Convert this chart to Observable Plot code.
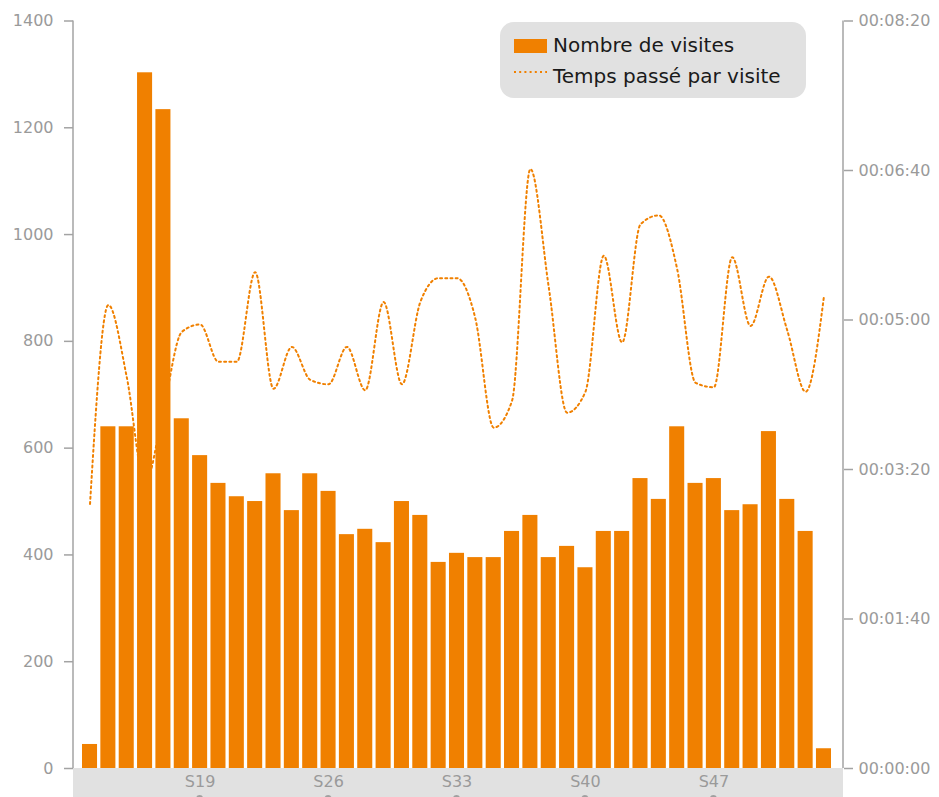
<!DOCTYPE html>
<html>
<head>
<meta charset="utf-8">
<script src="https://cdn.jsdelivr.net/npm/d3@7"></script>
<script src="https://cdn.jsdelivr.net/npm/@observablehq/plot@0.6"></script>
<style>
  html, body { margin: 0; padding: 0; background: #fff; }
  #wrap { position: relative; width: 939px; height: 797px; overflow: hidden; }
  #legend { position: absolute; left: 500px; top: 22px; }
</style>
</head>
<body>
<div id="wrap"></div>
<script>
const weeks = ["S13","S14","S15","S16","S17","S18","S19","S20","S21","S22","S23","S24","S25","S26","S27","S28","S29","S30","S31","S32","S33","S34","S35","S36","S37","S38","S39","S40","S41","S42","S43","S44","S45","S46","S47","S48","S49","S50","S51","S52","S53"];
const visits = [45,640,640,1303,1234,655,586,534,509,500,552,483,552,519,438,448,423,500,474,386,403,395,395,444,474,395,416,376,444,444,543,504,640,534,543,483,494,631,504,444,37];
const secondsPerVisit = [177,310,262,191,240,292,297,272,272,332,254,282,260,257,282,253,312,257,312,328,328,301,228,246,401,322,238,252,343,285,364,370,334,258,255,342,296,329,293,252,316];
const leftTicks = [0,200,400,600,800,1000,1200,1400];
const rightTicks = [0,100,200,300,400,500];
const xTicks = ["S19","S26","S33","S40","S47"];
const seriesNames = ["Nombre de visites","Temps passé par visite"];

const orange = "#f08000";
const axisGray = "#a3a3a3";
const yMax = leftTicks[leftTicks.length-1];
const secMax = rightTicks[rightTicks.length-1];
const k = yMax / secMax;

const table = weeks.map((w, i) => ({week: w, visits: visits[i], sec: secondsPerVisit[i]}));

function hms(s) {
  const h = Math.floor(s / 3600), m = Math.floor((s % 3600) / 60), ss = Math.round(s % 60);
  const p = n => String(n).padStart(2, "0");
  return `${p(h)}:${p(m)}:${p(ss)}`;
}

const W = 939, H = 797, mL = 73, mR = 96, mT = 20.5, mB = 29;

const chart = Plot.plot({
  width: W, height: H,
  marginTop: mT, marginBottom: mB, marginLeft: mL, marginRight: mR,
  style: {fontFamily: "DejaVu Sans", fontSize: "16px", background: "white", overflow: "visible"},
  x: {type: "band", domain: weeks, paddingInner: 0.18, paddingOuter: 0, round: false, range: [mL + 9, W - mR - 12], label: null},
  y: {domain: [0, yMax], label: null},
  marks: [
    Plot.line(table, {x: "week", y: d => d.sec * k, curve: "monotone-x", stroke: orange, strokeWidth: 2, strokeDasharray: "2,3.2"}),
    Plot.barY(table, {x: "week", y: "visits", fill: orange}),
    Plot.axisY(leftTicks, {anchor: "left", tickSize: 9, tickPadding: 11, color: "#9a9a9a", stroke: axisGray, strokeWidth: 1.5, tickFormat: d => String(d), label: null}),
    Plot.axisY(rightTicks.map(s => s * k), {anchor: "right", tickSize: 9, tickPadding: 6, color: "#9a9a9a", stroke: axisGray, strokeWidth: 1.5, tickFormat: v => hms(v / k), label: null}),
    Plot.axisX(xTicks, {anchor: "bottom", tickSize: 0, tickPadding: 7, color: "#9a9a9a", label: null})
  ]
});

const svg = d3.select(chart);
// gray x-axis band
svg.insert("rect", ":first-child")
  .attr("x", mL).attr("y", H - mB).attr("width", W - mL - mR).attr("height", mB + 5)
  .attr("fill", "#e1e1e1");
svg.insert("rect", ":first-child").attr("x", 0).attr("y", 0).attr("width", W).attr("height", H).attr("fill", "#fff");
// axis lines
[mL, W - mR].forEach(x => {
  svg.append("line").attr("x1", x).attr("x2", x).attr("y1", mT).attr("y2", H - mB)
    .attr("stroke", axisGray).attr("stroke-width", 1.5);
});
// small bottom tick marks
const xs = chart.scale("x");
xTicks.forEach(t => {
  svg.append("circle").attr("cx", xs.apply(t) + xs.bandwidth / 2).attr("cy", H + 1.5).attr("r", 3.5).attr("fill", "#a0a0a0");
});

document.getElementById("wrap").appendChild(chart);

// legend
const leg = d3.select("#wrap").append("svg").attr("id", "legend")
  .attr("width", 307).attr("height", 77)
  .style("font-family", "DejaVu Sans").style("font-size", "20px");
leg.append("rect").attr("x", 0).attr("y", 0).attr("width", 306).attr("height", 76).attr("rx", 14).attr("fill", "#e1e1e1");
leg.append("rect").attr("x", 14).attr("y", 17).attr("width", 33).attr("height", 14).attr("fill", orange);
leg.append("text").attr("x", 53).attr("y", 30).attr("fill", "#1a1a1a").text(seriesNames[0]);
leg.append("line").attr("x1", 14).attr("x2", 47).attr("y1", 50).attr("y2", 50)
  .attr("stroke", orange).attr("stroke-width", 2).attr("stroke-dasharray", "2,3.2");
leg.append("text").attr("x", 53).attr("y", 61).attr("fill", "#1a1a1a").text(seriesNames[1]);
</script>
</body>
</html>
